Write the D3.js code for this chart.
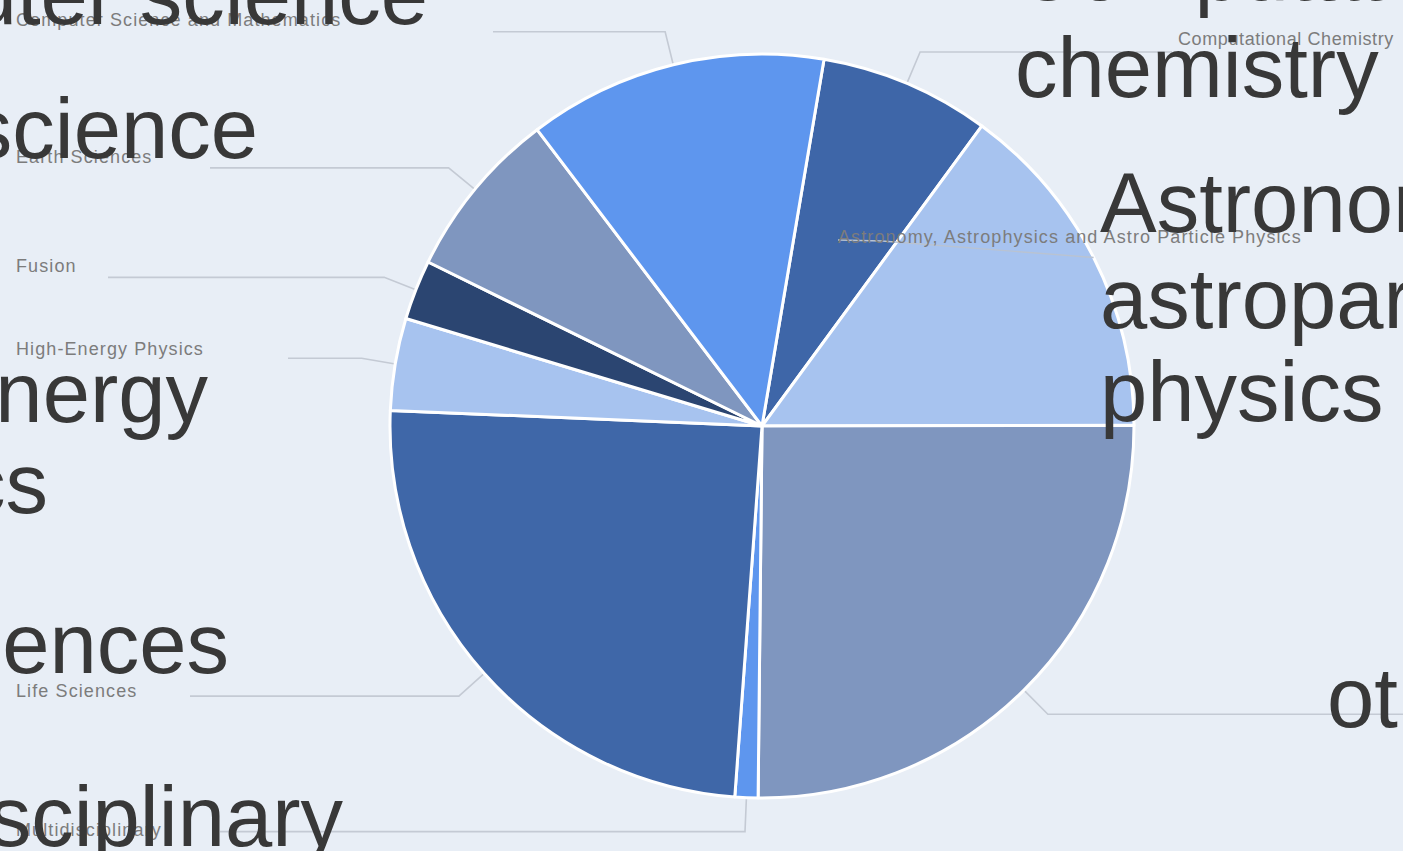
<!DOCTYPE html>
<html>
<head>
<meta charset="utf-8">
<script src="https://cdn.jsdelivr.net/npm/d3@7"></script>
<style>
  html, body { margin: 0; padding: 0; overflow: hidden; background: #e8eef6; }
  svg { display: block; }
</style>
</head>
<body>
<div id="chart"></div>
<script>
// slice data, clockwise from the top-right
const categories = [
    "Computational Chemistry",
    "Astronomy, Astrophysics and Astro Particle Physics",
    "Other",
    "Multidisciplinary",
    "Life Sciences",
    "High-Energy Physics",
    "Fusion",
    "Earth Sciences",
    "Computer Science and Mathematics"
];
const shares = [7.4, 14.9, 25.2, 1.0, 24.5, 4.0, 2.6, 7.4, 13.0];
const sliceColors = ["#3e66a8", "#a7c3ef", "#7f96bf", "#5e96ee", "#3f67a8", "#a7c3ef", "#2b4571", "#7f96bf", "#5e96ee"];

// big overlay captions (lines of text)
const bigCaptions = [
    ["Computer science"],
    ["Earth science"],
    ["High-energy", "physics"],
    ["Life sciences"],
    ["Multidisciplinary"],
    ["Computational", "chemistry"],
    ["Astronomy and", "astroparticle", "physics"],
    ["other"]
];

const width = 1403;
const height = 851;
const cx = 762;
const cy = 426;
const radius = 372;
const startDeg = 9.6;
const bigFont = 85;
const textDark = "#383838";
const labelGray = "#7c7c7c";
const leaderGray = "#c4cad4";

// where the small labels sit (layout only)
const labelLayout = {
    "Computer Science and Mathematics": { x: 16, y: 26, lineFrom: 493, spacing: 1.1 },
    "Earth Sciences": { x: 16, y: 163, lineFrom: 210, spacing: 1.1 },
    "Fusion": { x: 16, y: 272, lineFrom: 108, spacing: 1.1 },
    "High-Energy Physics": { x: 16, y: 355, lineFrom: 288, spacing: 1.1 },
    "Life Sciences": { x: 16, y: 697, lineFrom: 190, spacing: 1.1 },
    "Multidisciplinary": { x: 16, y: 836, lineFrom: 220, spacing: 1.1 },
    "Computational Chemistry": { x: 1178, y: 45, lineFrom: 1172, spacing: 0.6 },
    "Other": { x: null, y: null, lineFrom: width, spacing: 1.1 },
    "Astronomy, Astrophysics and Astro Particle Physics": { x: 838, y: 243, lineFrom: 838, spacing: 1.1 }
};

// big caption layout: anchor, x per line, baseline per line
const bigLayout = [
    { anchor: "end", x: [428], y: [24] },
    { anchor: "end", x: [258], y: [158] },
    { anchor: "end", x: [208, 48], y: [422, 513] },
    { anchor: "end", x: [229], y: [673] },
    { anchor: "end", x: [343], y: [846] },
    { anchor: "start", x: [1015, 1015], y: [0, 97] },
    { anchor: "start", x: [1100, 1100, 1100], y: [232, 328, 421] },
    { anchor: "start", x: [1327], y: [727] }
];

const svg = d3.select("#chart")
    .append("svg")
    .attr("width", width)
    .attr("height", height);

svg.append("rect")
    .attr("width", width)
    .attr("height", height)
    .attr("fill", "#e8eef6");

const pieData = categories.map((c, i) => ({ name: c, value: shares[i], color: sliceColors[i] }));

const start = startDeg * Math.PI / 180;
const pie = d3.pie()
    .sort(null)
    .value(d => d.value)
    .startAngle(start)
    .endAngle(start + 2 * Math.PI);

const arcs = pie(pieData);
const arc = d3.arc().innerRadius(0).outerRadius(radius);

// leader lines, drawn under the pie
const leaders = svg.append("g");
let astroLeader = null;
arcs.forEach(a => {
    const lay = labelLayout[a.data.name];
    const mid = (a.startAngle + a.endAngle) / 2;
    const p0 = [cx + radius * Math.sin(mid), cy - radius * Math.cos(mid)];
    const p1 = [cx + (radius + 34) * Math.sin(mid), cy - (radius + 34) * Math.cos(mid)];
    if (a.data.name.startsWith("Astronomy")) {
        // this one sits inside its slice
        astroLeader = [[lay.lineFrom, lay.y - 3], [lay.lineFrom + 44, lay.y - 2], p0];
        return;
    }
    const pts = [p0, p1, [lay.lineFrom, p1[1]]];
    leaders.append("polyline")
        .attr("points", pts.map(p => p.join(",")).join(" "))
        .attr("fill", "none")
        .attr("stroke", leaderGray)
        .attr("stroke-width", 1.6);
});

const g = svg.append("g").attr("transform", `translate(${cx},${cy})`);

g.selectAll("path")
    .data(arcs)
    .enter()
    .append("path")
    .attr("d", arc)
    .attr("fill", d => d.data.color)
    .attr("stroke", "white")
    .attr("stroke-width", 3)
    .attr("stroke-linejoin", "round");

svg.append("polyline")
    .attr("points", astroLeader.map(p => p.join(",")).join(" "))
    .attr("fill", "none")
    .attr("stroke", "#b9c3d2")
    .attr("stroke-width", 1.4);

// small gray labels
svg.append("g")
    .selectAll("text")
    .data(categories.filter(c => labelLayout[c].x !== null))
    .enter()
    .append("text")
    .attr("x", d => labelLayout[d].x)
    .attr("y", d => labelLayout[d].y)
    .attr("font-family", "'Liberation Sans', Arial, sans-serif")
    .attr("font-size", "18px")
    .attr("letter-spacing", d => labelLayout[d].spacing + "px")
    .attr("fill", labelGray)
    .text(d => d);

// big overlay captions
const big = svg.append("g")
    .attr("font-family", "'Liberation Sans', Arial, sans-serif")
    .attr("font-size", bigFont + "px")
    .attr("fill", textDark);

bigCaptions.forEach((lines, i) => {
    const lay = bigLayout[i];
    lines.forEach((line, j) => {
        big.append("text")
            .attr("x", lay.x[j])
            .attr("y", lay.y[j])
            .attr("text-anchor", lay.anchor)
            .text(line);
    });
});
</script>
</body>
</html>
